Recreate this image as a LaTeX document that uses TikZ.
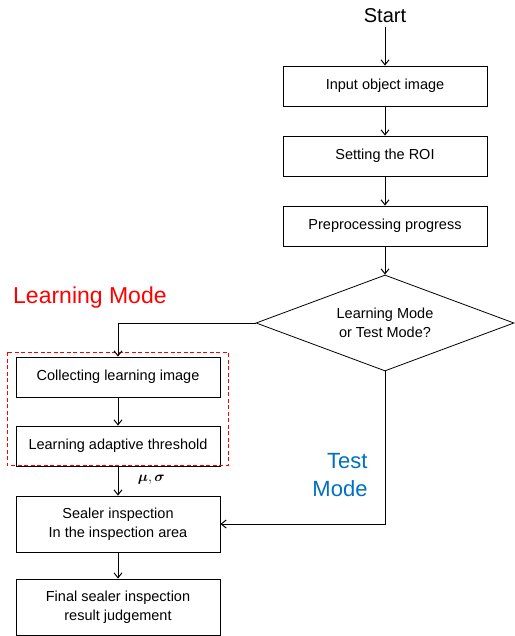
\documentclass[tikz,border=0pt]{standalone}
\usepackage{amsmath}
\usepackage{amssymb}
\usepackage{bm}
\usepackage{fontspec}
\setmainfont{Liberation Sans}
\usetikzlibrary{shapes.geometric,arrows.meta}

\definecolor{testblue}{RGB}{0,112,192}
\tikzset{
  stepbox/.style={draw,rectangle,line width=0.8pt,minimum width=204pt,minimum height=40pt,align=center,font=\fontsize{14.5}{19.5}\selectfont},
  tallbox/.style={stepbox,minimum height=56pt},
  flow/.style={-{Straight Barb[length=5pt,width=8pt]},line width=1pt}
}

\begin{document}
\begin{tikzpicture}[x=1pt,y=-1pt]
\useasboundingbox (0,0) rectangle (514,636);
\node[font=\fontsize{20}{22}\selectfont] (start) at (385,16) {Start};
\node[stepbox] (input) at (385,86) {Input object image};
\node[stepbox] (roi) at (385,156) {Setting the ROI};
\node[stepbox] (prep) at (385,226) {Preprocessing progress};
\node[draw,diamond,line width=0.8pt,aspect=2.7,minimum width=258pt,minimum height=96pt,inner sep=0pt,align=center,font=\fontsize{14.5}{19.5}\selectfont] (mode) at (385,323) {Learning Mode\\or Test Mode?};
\node[stepbox] (collect) at (118,377) {Collecting learning image};
\node[stepbox] (thresh) at (118,446) {Learning adaptive threshold};
\node[tallbox] (sealer) at (118,524) {Sealer inspection\\In the inspection area};
\node[tallbox] (final) at (118,607) {Final sealer inspection\\result judgement};
\draw [red,dash pattern=on 4pt off 2.5pt,line width=1pt] (7,352) rectangle (228,465);
\node[red,anchor=west,inner sep=0pt,font=\fontsize{23}{25}\selectfont] (learn) at (13,298) {Learning Mode};
\node[align=right,text=testblue,font=\fontsize{22}{28}\selectfont] (test) at (340,475) {Test\\Mode};
\draw [flow] (start) -- (input);
\draw [flow] (input) -- (roi);
\draw [flow] (roi) -- (prep);
\draw [flow] (prep) -- (mode);
\draw [flow] (mode.west) -| (collect.north);
\draw [flow] (collect) -- (thresh);
\draw [flow] (thresh) -- (sealer) node[midway,right,xshift=16pt,yshift=1pt,font=\fontsize{15}{17}\selectfont]{$\bm{\mu},\bm{\sigma}$};
\draw [flow] (mode.south) |- (sealer.east);
\draw [flow] (sealer) -- (final);
\end{tikzpicture}
\end{document}
